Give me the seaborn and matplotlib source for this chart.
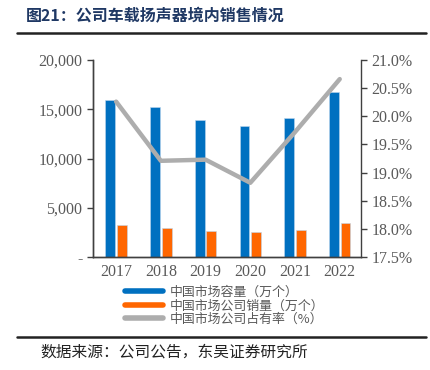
import numpy as np
import pandas as pd
import matplotlib
matplotlib.use("Agg")
import matplotlib.pyplot as plt
from matplotlib.lines import Line2D
from matplotlib.ticker import FuncFormatter, FixedLocator
import seaborn as sns

# === Data ===
years = ["2017", "2018", "2019", "2020", "2021", "2022"]
market_size = [15900, 15250, 13950, 13250, 14150, 16750]   # 中国市场容量（万个）
company_sales = [3250, 2950, 2700, 2500, 2800, 3450]      # 中国市场公司销量（万个）
market_share = [20.26, 19.21, 19.23, 18.82, 19.72, 20.66]  # 中国市场公司占有率（%）

series_names = ["中国市场容量（万个）", "中国市场公司销量（万个）", "中国市场公司占有率（%）"]

BLUE = "#0070C0"
ORANGE = "#FF6600"
GREY = "#ADADAD"
TXT = "#595959"
CJK = ["Noto Sans CJK SC", "DejaVu Sans"]
SERIF = ["Liberation Serif", "Noto Sans CJK SC"]

sns.set_style("white")
plt.rcParams["font.family"] = SERIF

df = pd.DataFrame({
    "year": years * 2,
    "value": market_size + company_sales,
    "series": [series_names[0]] * len(years) + [series_names[1]] * len(years),
})

fig = plt.figure(figsize=(4.3, 3.7), dpi=100)
ax = fig.add_axes([0.216, 0.305, 0.624, 0.533])

sns.barplot(data=df, x="year", y="value", hue="series", palette=[BLUE, ORANGE],
            saturation=1, width=0.52, gap=0.15, ax=ax, legend=False,
            edgecolor="#BDD7EE", linewidth=0.4)
ax.set_xlim(-0.52, 5.48)
ax.set_ylim(0, 20000)
ax.set_yticks([0, 5000, 10000, 15000, 20000])
ax.yaxis.set_major_formatter(FuncFormatter(lambda v, p: "-" if v == 0 else f"{v:,.0f}"))
ax.set_xlabel("")
ax.set_ylabel("")

# boundary ticks between categories
ax.xaxis.set_minor_locator(FixedLocator(np.arange(-0.5, len(years), 1.0)))
ax.tick_params(axis="x", which="major", length=0, labelsize=11.5, labelcolor=TXT, pad=5)
ax.tick_params(axis="x", which="minor", length=5, direction="out", color="#404040", width=1)
ax.tick_params(axis="y", length=4, direction="out", color="#404040", width=1,
               labelsize=11.5, labelcolor=TXT, left=True)

ax2 = ax.twinx()
sns.lineplot(x=np.arange(len(years)), y=market_share, color=GREY, lw=3.2, ax=ax2)
ax2.set_ylim(17.5, 21.0)
ax2.set_yticks(np.arange(17.5, 21.01, 0.5))
ax2.yaxis.set_major_formatter(FuncFormatter(lambda v, p: f"{v:.1f}%"))
ax2.tick_params(axis="y", length=4, direction="out", color="#404040", width=1,
                labelsize=11.5, labelcolor=TXT, right=True)

for a in (ax, ax2):
    a.spines["top"].set_visible(False)
    for s in ("left", "right", "bottom"):
        a.spines[s].set_color("#404040")
        a.spines[s].set_linewidth(1)
ax.spines["right"].set_visible(False)

# === Legend ===
handles = [Line2D([0], [0], color=BLUE, lw=4),
           Line2D([0], [0], color=ORANGE, lw=4),
           Line2D([0], [0], color=GREY, lw=4)]
fig.legend(handles, series_names, loc="upper left", bbox_to_anchor=(0.29, 0.228),
           frameon=False, handlelength=3.0, handletextpad=0.45, labelspacing=0.05,
           borderaxespad=0, borderpad=0, prop={"family": CJK, "size": 9.3},
           labelcolor=TXT)

# === Title, rules and source ===
fig.text(0.06, 0.955, "图21：公司车载扬声器境内销售情况", family=CJK, fontsize=11.5,
         fontweight="bold", color="#1F3864", va="center", ha="left")
fig.add_artist(Line2D([0.04, 0.99], [0.912, 0.912], color="#222222", lw=1.8))
fig.add_artist(Line2D([0.04, 0.99], [0.09, 0.09], color="#222222", lw=1.8))
fig.text(0.095, 0.048, "数据来源：公司公告，东吴证券研究所", family=CJK, fontsize=11.3,
         color="#222222", va="center", ha="left")

fig.savefig("out.png", dpi=100)
